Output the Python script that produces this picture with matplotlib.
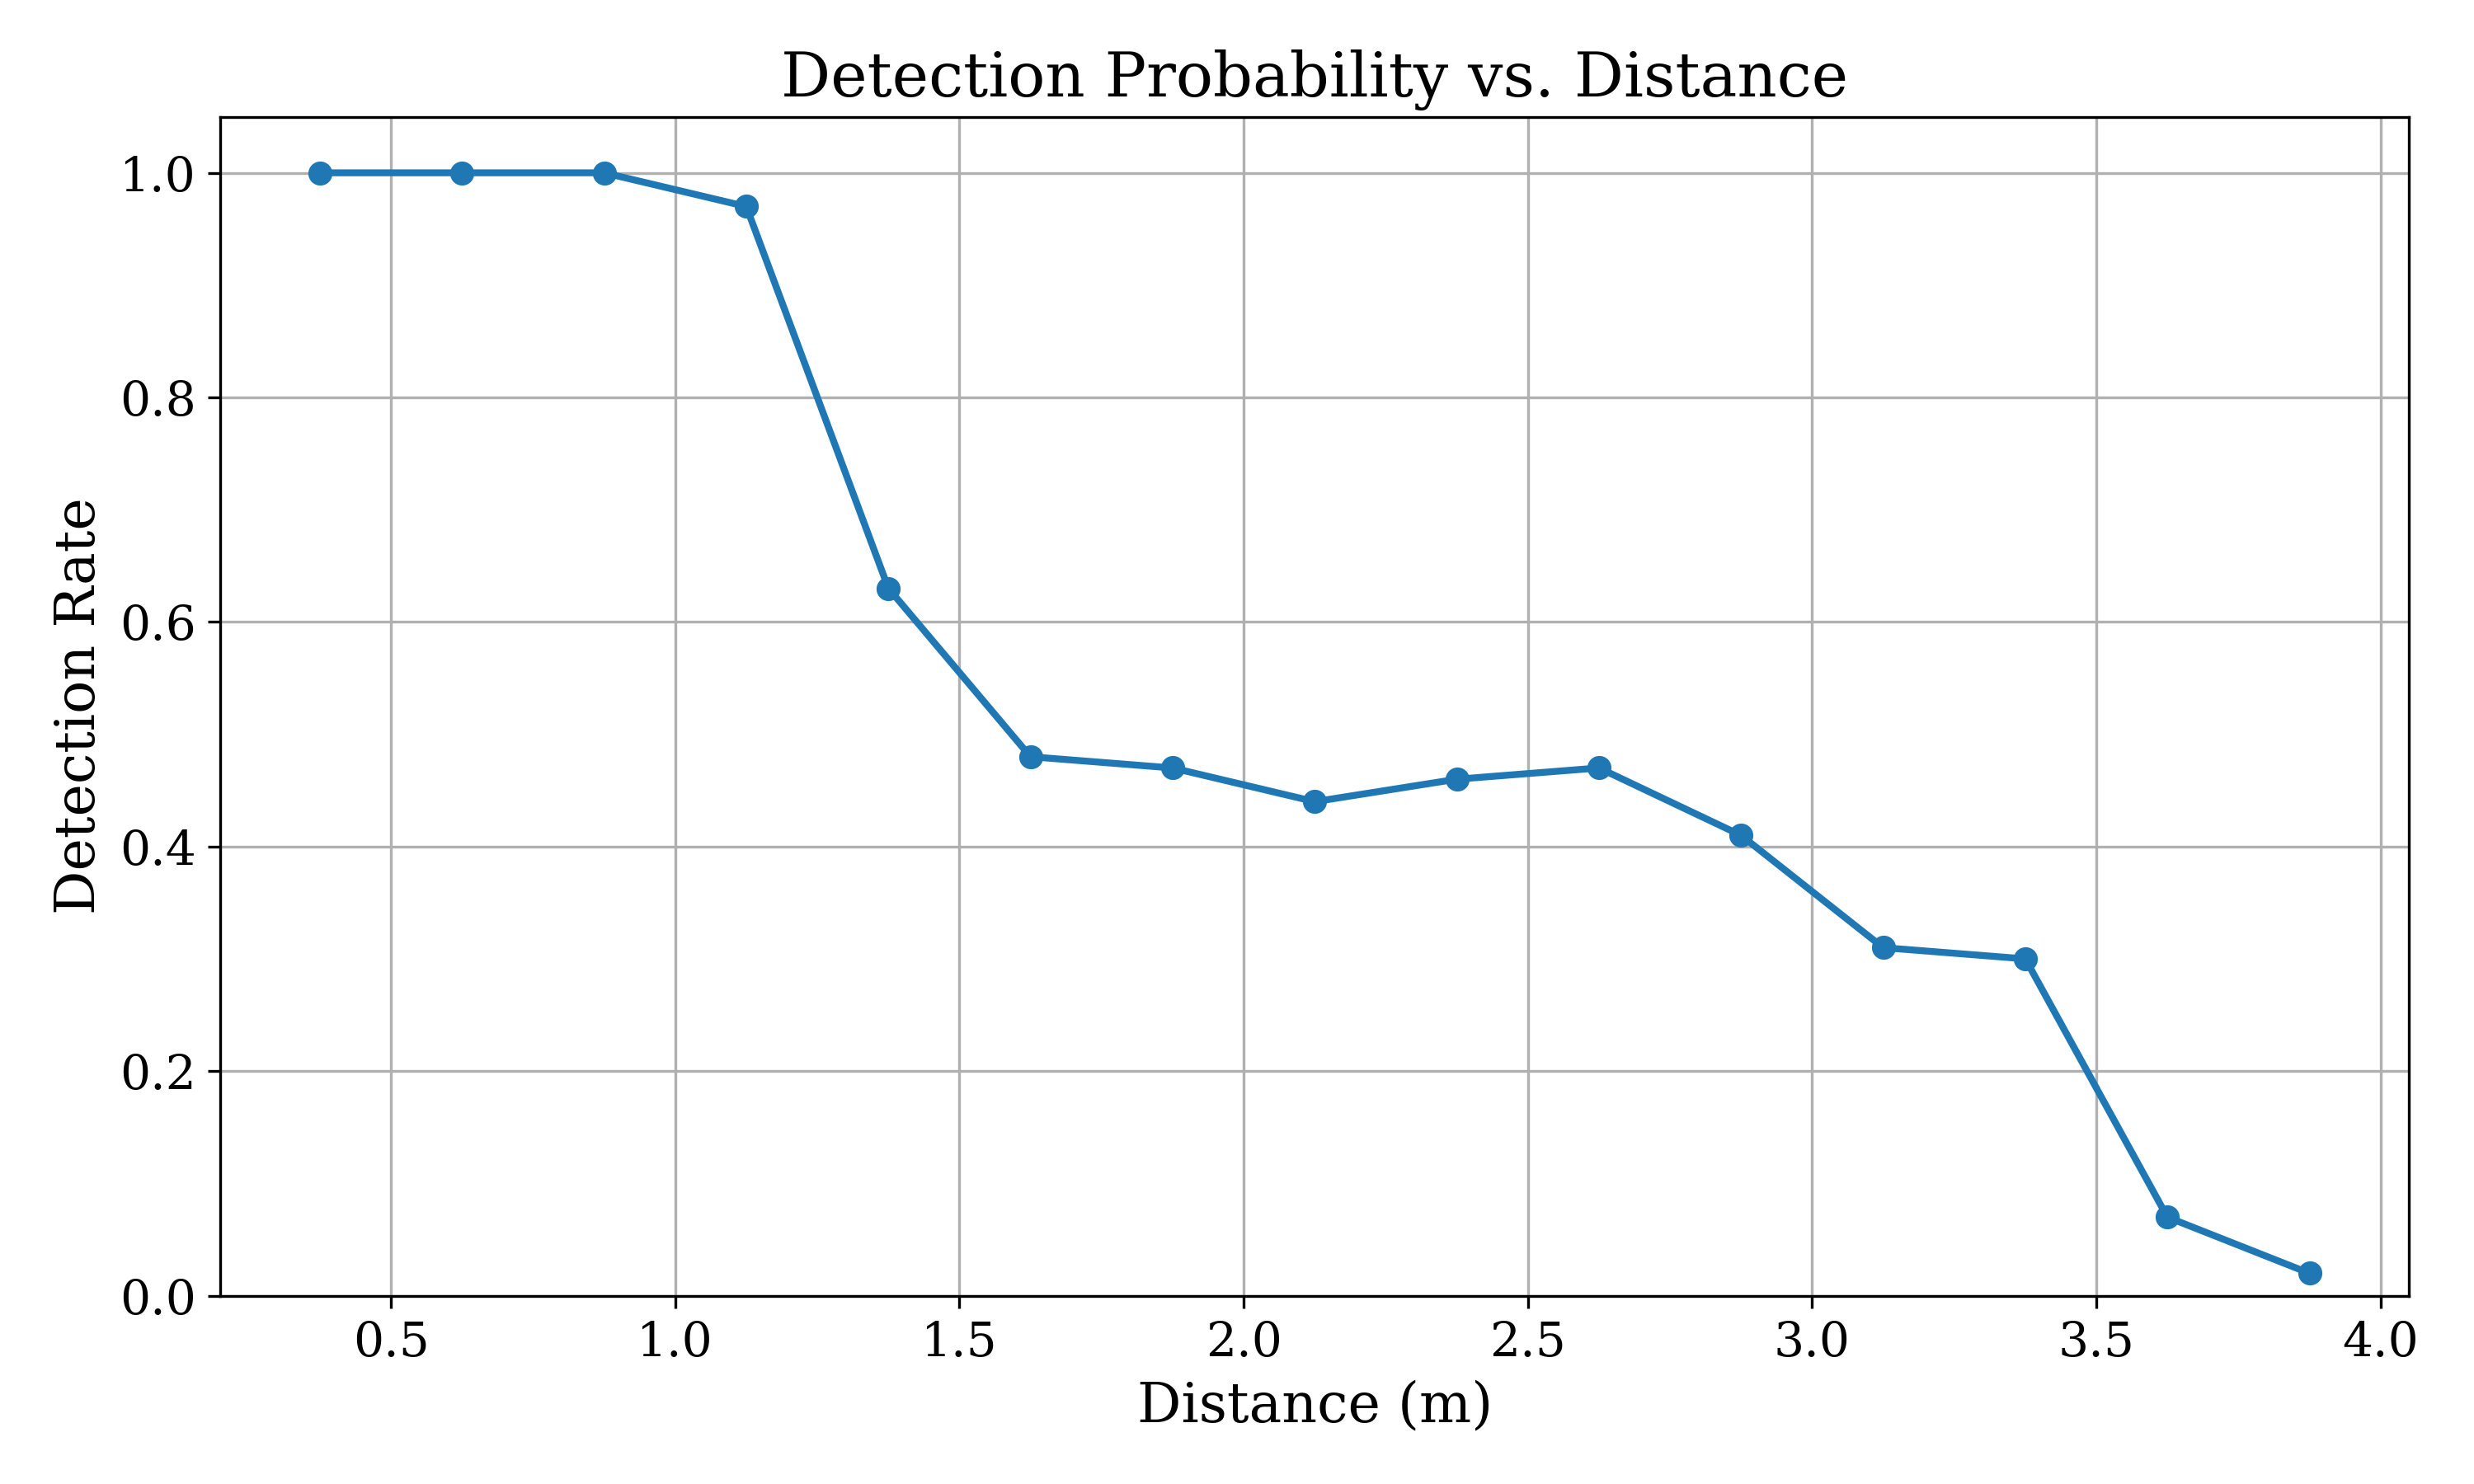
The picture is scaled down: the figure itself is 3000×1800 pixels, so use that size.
import numpy as np
import matplotlib
matplotlib.use("Agg")
from matplotlib import pyplot as plt

plt.rcParams["font.family"] = "DejaVu Serif"

# bin centres (m) and detection rate per bin
distance = [0.375, 0.625, 0.875, 1.125, 1.375, 1.625, 1.875, 2.125,
            2.375, 2.625, 2.875, 3.125, 3.375, 3.625, 3.875]
rate = [1.00, 1.00, 1.00, 0.97, 0.63, 0.48, 0.47, 0.44,
        0.46, 0.47, 0.41, 0.31, 0.30, 0.07, 0.02]

fig, ax = plt.subplots(figsize=(10, 6))
ax.plot(distance, rate, marker="o", linewidth=2, markersize=6, color="#1f77b4")
ax.set_title("Detection Probability vs. Distance", fontsize=18)
ax.set_xlabel("Distance (m)", fontsize=16)
ax.set_ylabel("Detection Rate", fontsize=16)
ax.set_ylim(0, 1.05)
ax.tick_params(labelsize=14)
ax.grid(True)
fig.tight_layout(pad=1.5)
fig.savefig("out.png", dpi=300)
